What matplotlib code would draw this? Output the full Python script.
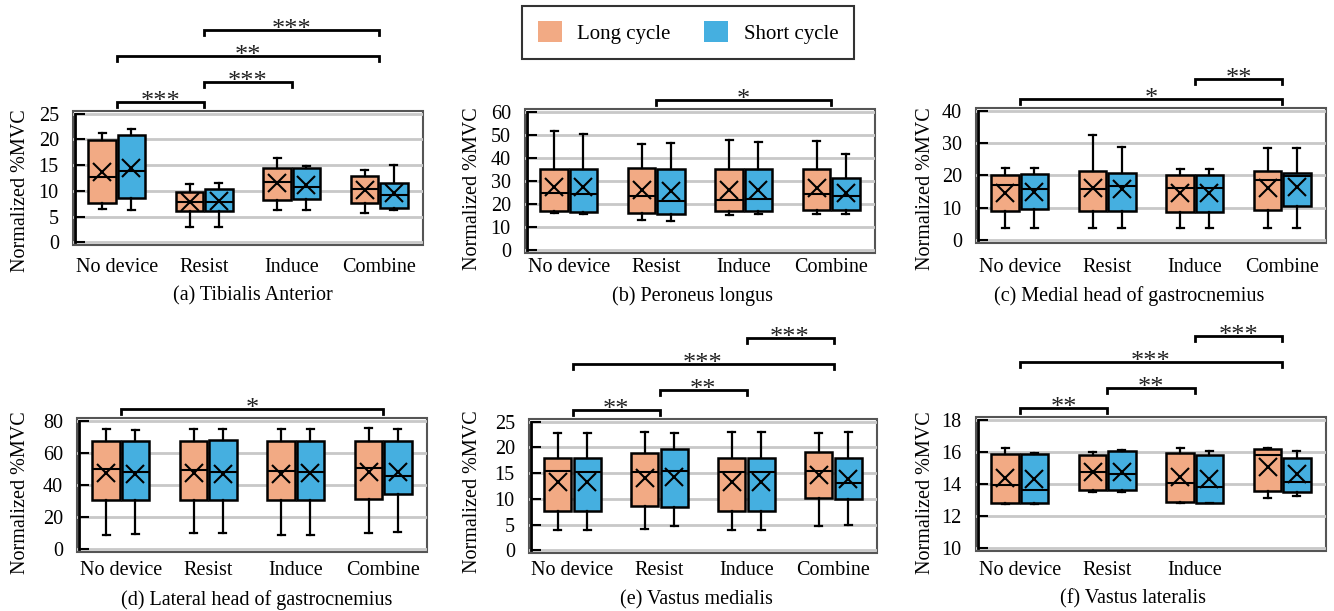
import matplotlib.pyplot as plt
import matplotlib.transforms as mtransforms
from matplotlib.patches import Patch, Rectangle
import numpy as np

plt.rcParams['font.family'] = ['Liberation Serif', 'DejaVu Serif']

categories = ["No device", "Resist", "Induce", "Combine"]
series_names = ["Long cycle", "Short cycle"]

# each row: [lower whisker, q1, median, q3, upper whisker, mean]
ta_long = [[6.5, 7.6, 12.7, 19.8, 21.3, 13.6], [2.9, 6.0, 7.9, 9.8, 11.4, 7.8],
           [6.2, 8.3, 11.7, 14.4, 16.3, 11.5], [5.8, 7.6, 10.4, 12.8, 14.0, 10.1]]
ta_short = [[6.3, 8.6, 13.9, 20.8, 22.1, 14.5], [2.9, 6.0, 7.9, 10.4, 11.5, 8.1],
            [6.3, 8.4, 10.7, 14.4, 14.9, 11.1], [6.2, 6.7, 9.2, 11.5, 15.1, 9.5]]

pl_long = [[16.1, 16.8, 24.6, 35.4, 51.5, 27.3], [13.3, 16.2, 23.6, 35.7, 46.0, 25.9],
           [15.2, 17.2, 21.7, 35.4, 47.8, 26.2], [15.5, 17.4, 24.5, 35.1, 47.3, 27.0]]
pl_short = [[15.6, 16.7, 24.5, 35.4, 50.4, 27.3], [12.5, 15.8, 21.2, 35.4, 46.3, 25.5],
            [15.5, 17.0, 22.0, 35.4, 46.7, 26.2], [15.5, 17.4, 23.7, 31.4, 41.6, 24.8]]

mg_long = [[3.7, 9.1, 17.1, 20.3, 22.3, 14.7], [3.7, 9.1, 15.9, 21.4, 32.4, 16.2],
           [3.7, 8.9, 16.1, 20.2, 22.1, 14.7], [3.7, 9.5, 18.6, 21.4, 28.6, 16.2]]
mg_short = [[3.7, 9.6, 15.8, 20.5, 22.3, 15.0], [3.7, 9.1, 16.7, 20.8, 28.9, 15.9],
            [3.7, 8.7, 16.1, 20.2, 21.9, 14.7], [3.9, 10.6, 19.8, 20.8, 28.4, 16.5]]

lg_long = [[8.9, 30.9, 49.9, 67.6, 74.8, 47.4], [10.3, 30.5, 49.3, 67.6, 74.6, 47.4],
           [9.1, 30.5, 48.5, 67.4, 74.6, 47.0], [10.3, 31.1, 50.3, 67.2, 75.1, 48.2]]
lg_short = [[9.3, 30.5, 48.2, 67.6, 74.4, 47.0], [10.1, 30.5, 48.0, 68.0, 74.6, 47.0],
            [9.1, 30.5, 48.0, 67.4, 74.6, 47.4], [10.7, 34.2, 45.6, 67.6, 74.6, 48.2]]

vm_long = [[4.0, 7.7, 15.5, 18.0, 22.8, 13.2], [4.2, 8.6, 15.3, 19.0, 22.9, 14.0],
           [4.0, 7.7, 15.3, 18.0, 22.9, 13.2], [4.7, 10.1, 15.4, 19.1, 22.7, 14.7]]
vm_short = [[4.0, 7.7, 15.2, 18.0, 22.7, 13.2], [4.7, 8.4, 15.4, 19.6, 22.7, 14.2],
            [4.0, 7.7, 15.3, 18.0, 22.9, 13.3], [5.0, 9.9, 13.0, 17.9, 23.0, 13.8]]

vl_long = [[12.74, 12.82, 13.96, 15.88, 16.23, 14.35], [13.51, 13.63, 14.74, 15.79, 15.96, 14.76],
           [12.82, 12.89, 14.06, 15.92, 16.23, 14.43], [13.13, 13.59, 15.77, 16.19, 16.21, 15.05]]
vl_short = [[12.78, 12.85, 13.63, 15.86, 15.94, 14.29], [13.48, 13.63, 14.62, 16.02, 16.10, 14.76],
            [12.80, 12.85, 13.81, 15.79, 16.04, 14.33], [13.24, 13.51, 14.14, 15.63, 16.04, 14.62]]

titles = ["(a) Tibialis Anterior", "(b) Peroneus longus", "(c) Medial head of gastrocnemius",
          "(d) Lateral head of gastrocnemius", "(e) Vastus medialis", "(f) Vastus lateralis"]

y_ticks = [np.arange(0, 26, 5), np.arange(0, 61, 10), np.arange(0, 41, 10),
           np.arange(0, 81, 20), np.arange(0, 26, 5), np.arange(10, 19, 2)]

# significance brackets: (from group, to group, stars, tier)
brackets = [
    [(0, 1, "***", 0), (1, 2, "***", 1), (0, 3, "**", 2), (1, 3, "***", 3)],
    [(1, 3, "*", 0)],
    [(0, 3, "*", 0), (2, 3, "**", 1)],
    [(0, 3, "*", 0)],
    [(0, 1, "**", 0), (1, 2, "**", 1), (0, 3, "***", 2), (2, 3, "***", 3)],
    [(0, 1, "**", 0), (1, 2, "**", 1), (0, 3, "***", 2), (2, 3, "***", 3)],
]

panels = [(ta_long, ta_short), (pl_long, pl_short), (mg_long, mg_short),
          (lg_long, lg_short), (vm_long, vm_short), (vl_long, vl_short)]

# layout in pixels (left, bottom, width, height) for a 1334x611 canvas
W, H = 1334, 611
axes_px = [(73, 366, 350, 134), (525, 358, 350, 144), (976, 368, 350, 135),
           (77, 59, 350, 134), (529, 58, 348, 134), (976, 60, 350, 134)]
xlabel_pad = [9, 3.5, 10.5, 6.5, 6, 7.5]
title_pos = [(253, 296), (693, 296), (1129, 296), (257, 600), (696, 600), (1133, 599)]
ylabel_pos = [(21, 191), (473, 189), (925, 189), (21, 493), (473, 492), (925, 493)]
tier_px = [9, 29, 55, 81]

orange = '#F2AA84'
blue = '#45AFE0'
FS = 14.5

fig = plt.figure(figsize=(W / 100, H / 100), dpi=100)


def to_stats(rows):
    stats = []
    for r in rows:
        stats.append(dict(whislo=r[0], q1=r[1], med=r[2], q3=r[3], whishi=r[4],
                          mean=r[5], fliers=[]))
    return stats


for k, (long_rows, short_rows) in enumerate(panels):
    l, b, w, h = axes_px[k]
    ax = fig.add_axes([l / W, b / H, w / W, h / H])
    x = np.arange(len(categories))
    for rows, col, off in [(long_rows, orange, -0.168), (short_rows, blue, 0.168)]:
        ax.bxp(to_stats(rows), positions=x + off, widths=0.31, capwidths=0.08,
               patch_artist=True, showmeans=True, manage_ticks=False,
               boxprops=dict(facecolor=col, edgecolor='black', linewidth=1.8),
               medianprops=dict(color='black', linewidth=1.5),
               whiskerprops=dict(color='black', linewidth=1.6),
               capprops=dict(color='black', linewidth=1.6),
               meanprops=dict(marker='x', markeredgecolor='black', markersize=13,
                              markeredgewidth=1.5))

    yt = y_ticks[k]
    rng = yt[-1] - yt[0]
    ax.set_ylim(yt[0] - 0.02 * rng, yt[-1] + 0.02 * rng)
    ax.set_xlim(-0.5, 3.5)
    ax.set_yticks(yt)
    ax.tick_params(axis='y', direction='in', length=7, width=1.5, pad=12, labelsize=FS)
    labels = list(categories)
    if k == 5:
        labels[3] = ""
    ax.set_xticks(x, labels)
    ax.tick_params(axis='x', length=0, pad=xlabel_pad[k], labelsize=FS)

    ax.set_axisbelow(True)
    ax.yaxis.grid(True, color='#c8c8c8', linewidth=2)
    for s in ['top', 'right', 'bottom']:
        ax.spines[s].set_visible(False)
    ax.spines['left'].set_position(('axes', 0.007))
    ax.spines['left'].set_bounds(yt[0], yt[-1])
    ax.spines['left'].set_linewidth(2)
    ax.add_patch(Rectangle((0, 0), 1, 1, transform=ax.transAxes, fill=False,
                           edgecolor='#555555', linewidth=1.5, clip_on=False, zorder=0.5))

    # brackets above the plot area
    base = mtransforms.blended_transform_factory(ax.transData, ax.transAxes)
    for i, j, stars, tier in brackets[k]:
        tr = mtransforms.offset_copy(base, fig=fig, y=tier_px[tier], units='dots')
        ax.plot([i, i, j, j], [1 - 5 / h, 1, 1, 1 - 5 / h], color='black', linewidth=2,
                transform=tr, clip_on=False, solid_joinstyle='miter')
        ts = mtransforms.offset_copy(base, fig=fig, y=tier_px[tier] - 6, units='dots')
        ax.text((i + j) / 2, 1, stars, transform=ts, ha='center', va='baseline',
                fontsize=19, color='#222222')

    fig.text(title_pos[k][0] / W, 1 - title_pos[k][1] / H, titles[k], ha='center',
             va='center', fontsize=FS)
    fig.text(ylabel_pos[k][0] / W, 1 - ylabel_pos[k][1] / H, "Normalized %MVC",
             rotation=90, ha='center', va='center', fontsize=FS)

handles = [Patch(facecolor=orange, edgecolor='none'), Patch(facecolor=blue, edgecolor='none')]
leg = fig.legend(handles, series_names, loc='center', bbox_to_anchor=(688 / W, 1 - 32.5 / H),
                 ncol=2, fontsize=15, frameon=True, fancybox=False, handlelength=1.15,
                 handleheight=1.15, handletextpad=0.75, columnspacing=1.6, borderpad=0.75,
                 borderaxespad=0)
leg.get_frame().set_edgecolor('black')
leg.get_frame().set_linewidth(1.5)

fig.savefig('out.png', dpi=100)
